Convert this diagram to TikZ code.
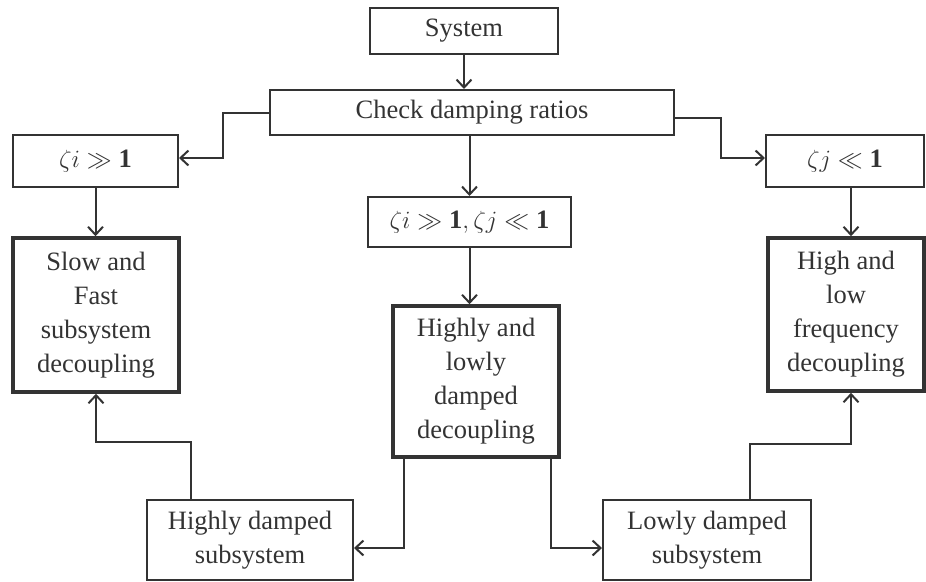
\documentclass[tikz,border=0pt]{standalone}
\usepackage{fontspec}
\setmainfont{Liberation Serif}
\usetikzlibrary{arrows.meta}
\definecolor{ink}{HTML}{333333}
\begin{document}
\begin{tikzpicture}[x=1pt,y=-1pt,
  every node/.style={inner sep=0pt,align=center,text=ink,font=\fontsize{26.5}{34}\selectfont},
  thinbox/.style={draw=ink,line width=2pt},
  thickbox/.style={draw=ink,line width=3.6pt},
  arr/.style={draw=ink,line width=2pt,-{Straight Barb[length=8pt,width=15pt,line width=2pt]}},
  plain/.style={draw=ink,line width=2pt}]
\useasboundingbox (0,0) rectangle (926,581);
\node[thinbox,minimum width=188pt,minimum height=46pt] (sys) at (464,31) {System};
\node[thinbox,minimum width=404pt,minimum height=45pt] (check) at (472,112.5) {Check damping ratios};
\node[thinbox,minimum width=165pt,minimum height=52pt] (zi) at (95.5,161) {$\zeta i \gg \mathbf{1}$};
\node[thinbox,minimum width=158pt,minimum height=52pt] (zj) at (845,161) {$\zeta j \ll \mathbf{1}$};
\node[thinbox,minimum width=203pt,minimum height=50pt] (zz) at (469.5,222) {$\zeta i \gg \mathbf{1}, \zeta j \ll \mathbf{1}$};
\node[thickbox,minimum width=166pt,minimum height=154pt] (slow) at (96,315) {Slow and\\Fast\\subsystem\\decoupling};
\node[thickbox,minimum width=166pt,minimum height=151pt] (hl) at (476,381.5) {Highly and\\lowly\\damped\\decoupling};
\node[thickbox,minimum width=156pt,minimum height=153pt] (hlf) at (846,314.5) {High and\\low\\frequency\\decoupling};
\node[thinbox,minimum width=206pt,minimum height=80pt] (hd) at (250,540) {Highly damped\\subsystem};
\node[thinbox,minimum width=208pt,minimum height=80pt] (ld) at (707,540) {Lowly damped\\subsystem};
% connectors
\draw[arr] (sys.south) -- (sys.south |- check.north);
\draw[arr] (check.west) -- ++(-46,0) |- ([yshift=3pt]zi.east);
\draw[arr] ([yshift=-5pt]check.east) -- ++(46,0) |- ([yshift=3pt]zj.west);
\draw[arr] (check.south -| zz.north) -- (zz.north);
\draw[arr] (zi.south) -- (zi.south |- slow.north);
\draw[arr] ([xshift=6pt]zj.south) -- ([xshift=6pt]zj.south |- hlf.north);
\draw[arr] (zz.south) -- (zz.south |- hl.north);
\draw[arr] ([xshift=-72pt]hl.south) |- ([yshift=-8pt]hd.east);
\draw[arr] ([xshift=75pt]hl.south) |- ([yshift=-8pt]ld.west);
\draw[arr] ([xshift=-59pt]hd.north) -- ++(0,-57) -| (slow.south);
\draw[arr] ([xshift=43pt]ld.north) -- ++(0,-55) -| ([xshift=5pt]hlf.south);
\end{tikzpicture}
\end{document}
